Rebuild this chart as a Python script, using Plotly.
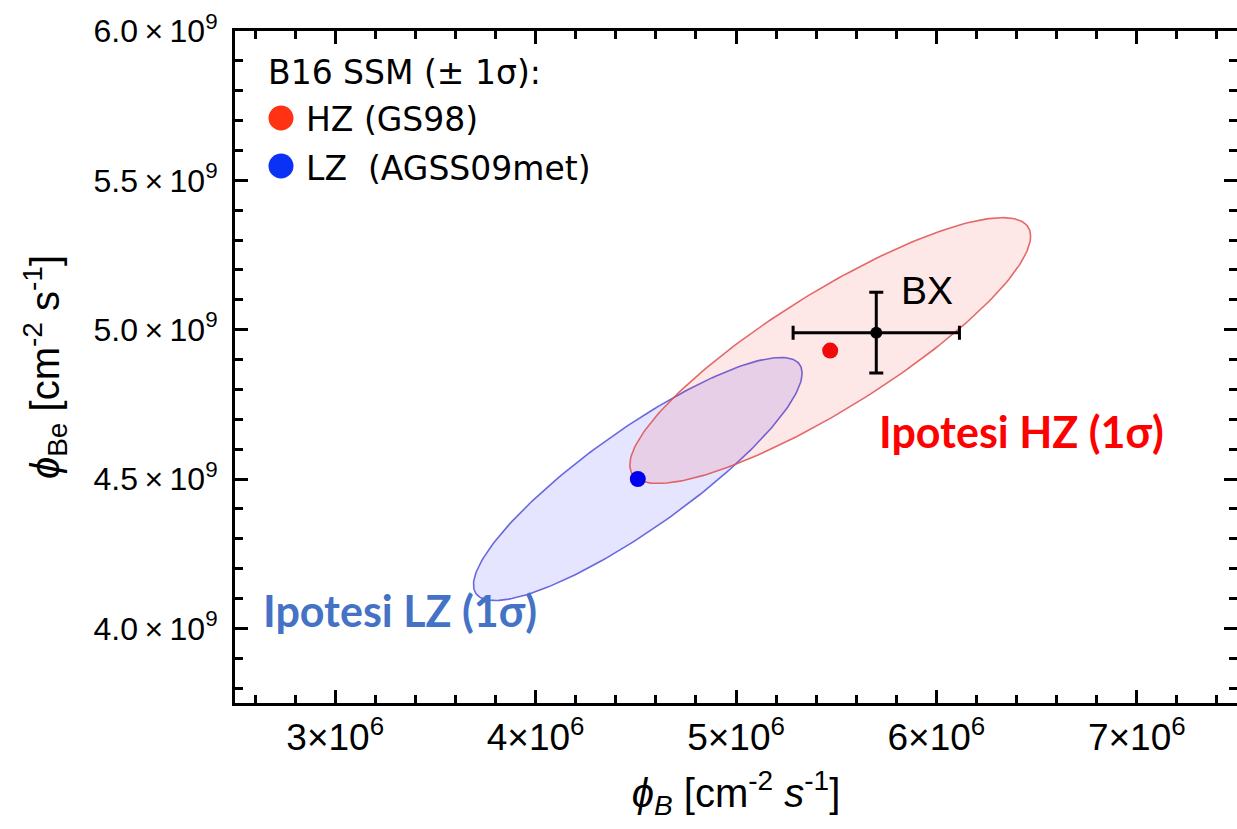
import numpy as np
import plotly.graph_objects as go

# ---------------- data ----------------
x_tick_vals = [3e6, 4e6, 5e6, 6e6, 7e6]
x_tick_text = ["3×10<sup>6</sup>", "4×10<sup>6</sup>", "5×10<sup>6</sup>", "6×10<sup>6</sup>", "7×10<sup>6</sup>"]
y_tick_vals = [4.0e9, 4.5e9, 5.0e9, 5.5e9, 6.0e9]
y_tick_text = ["4.0\u2009×\u200910<sup>9</sup>", "4.5\u2009×\u200910<sup>9</sup>", "5.0\u2009×\u200910<sup>9</sup>",
               "5.5\u2009×\u200910<sup>9</sup>", "6.0\u2009×\u200910<sup>9</sup>"]

# SSM model ellipses: centre, 1-sigma half widths, correlation
hz_center = [5.47e6, 4.93e9]
hz_sigma = [1.00e6, 0.445e9]
hz_rho = 0.86

lz_center = [4.51e6, 4.50e9]
lz_sigma = [0.82e6, 0.407e9]
lz_rho = 0.87

# Borexino measurement
bx_x = [5.70e6]
bx_y = [4.99e9]
bx_xerr = [0.415e6]
bx_yerr = [0.135e9]

X_RANGE = [2.5e6, 7.5e6]
Y_RANGE = [3.75e9, 6.0e9]


def ellipse(center, sigma, rho, n=240):
    t = np.linspace(0, 2 * np.pi, n)
    d = np.arccos(rho)
    return center[0] + sigma[0] * np.cos(t), center[1] + sigma[1] * np.cos(t - d)


fig = go.Figure()

lx, ly = ellipse(lz_center, lz_sigma, lz_rho)
fig.add_trace(go.Scatter(x=lx, y=ly, mode="lines", fill="toself",
                         fillcolor="rgba(40,40,255,0.12)",
                         line=dict(color="rgba(80,80,220,0.85)", width=1.6),
                         hoverinfo="skip"))
hx, hy = ellipse(hz_center, hz_sigma, hz_rho)
fig.add_trace(go.Scatter(x=hx, y=hy, mode="lines", fill="toself",
                         fillcolor="rgba(245,40,40,0.11)",
                         line=dict(color="rgba(225,80,80,0.85)", width=1.6),
                         hoverinfo="skip"))

fig.add_trace(go.Scatter(x=[hz_center[0]], y=[hz_center[1]], mode="markers",
                         marker=dict(color="#F00A0A", size=16)))
fig.add_trace(go.Scatter(x=[lz_center[0]], y=[lz_center[1]], mode="markers",
                         marker=dict(color="#0000F0", size=16)))

fig.add_trace(go.Scatter(x=bx_x, y=bx_y, mode="markers",
                         marker=dict(color="black", size=12),
                         error_x=dict(type="data", array=bx_xerr, color="black", thickness=3, width=7),
                         error_y=dict(type="data", array=bx_yerr, color="black", thickness=3, width=7)))

# paper coordinate helpers (plot area: x 235..1237, y 31..703)
def px(xp):
    return (xp - 235) / 1002.0


def py(yp):
    return (703 - yp) / 672.0


annotations = [
    dict(x=px(266), y=py(72), xref="paper", yref="paper", text="B16 SSM (± 1σ):",
         showarrow=False, xanchor="left", yanchor="middle",
         font=dict(family="DejaVu Sans", size=33, color="black")),
    dict(x=px(304), y=py(120), xref="paper", yref="paper", text="HZ (GS98)",
         showarrow=False, xanchor="left", yanchor="middle",
         font=dict(family="DejaVu Sans", size=33, color="black")),
    dict(x=px(304), y=py(168), xref="paper", yref="paper", text="LZ  (AGSS09met)",
         showarrow=False, xanchor="left", yanchor="middle",
         font=dict(family="DejaVu Sans", size=33, color="black")),
    dict(x=px(927), y=py(290), xref="paper", yref="paper", text="BX",
         showarrow=False, xanchor="center", yanchor="middle",
         font=dict(family="Liberation Sans", size=39, color="black")),
    dict(x=px(1021), y=py(431), xref="paper", yref="paper", text="<b>Ipotesi HZ (1σ)</b>",
         showarrow=False, xanchor="center", yanchor="middle",
         font=dict(family="Lato", size=43, color="#FF0000")),
    dict(x=px(400), y=py(610), xref="paper", yref="paper", text="<b>Ipotesi LZ (1σ)</b>",
         showarrow=False, xanchor="center", yanchor="middle",
         font=dict(family="Lato", size=43, color="#4472C4")),
]

shapes = [
    dict(type="circle", xref="paper", yref="paper", xsizemode="pixel", ysizemode="pixel",
         xanchor=px(281), yanchor=py(118), x0=-12.5, x1=12.5, y0=-12.5, y1=12.5,
         fillcolor="#FF3314", line=dict(width=0)),
    dict(type="circle", xref="paper", yref="paper", xsizemode="pixel", ysizemode="pixel",
         xanchor=px(281), yanchor=py(166), x0=-12.5, x1=12.5, y0=-12.5, y1=12.5,
         fillcolor="#0A32F5", line=dict(width=0)),
]

axis_common = dict(showline=True, linecolor="black", linewidth=3, mirror="allticks",
                   ticks="inside", ticklen=13, tickwidth=2.5, tickcolor="black",
                   showgrid=False, zeroline=False)

fig.update_layout(
    width=1237, height=829,
    margin=dict(l=235, r=0, t=31, b=126, autoexpand=False),
    plot_bgcolor="white", paper_bgcolor="white",
    showlegend=False,
    annotations=annotations,
    shapes=shapes,
    xaxis=dict(range=X_RANGE, tickvals=x_tick_vals, ticktext=x_tick_text,
               tickfont=dict(family="Liberation Sans", size=37, color="black"),
               minor=dict(dtick=2e5, tick0=3e6, ticks="inside", ticklen=8, tickwidth=2.5,
                          tickcolor="black", showgrid=False),
               title=dict(text="<i>ϕ</i><sub><i>B</i></sub> [cm<sup>-2</sup> <i>s</i><sup>-1</sup>]",
                          font=dict(family="Liberation Sans", size=40, color="black"), standoff=22),
               **axis_common),
    yaxis=dict(range=Y_RANGE, tickvals=y_tick_vals, ticktext=y_tick_text,
               tickfont=dict(family="Liberation Sans", size=32, color="black"),
               ticklabelstandoff=8,
               minor=dict(dtick=1e8, tick0=4e9, ticks="inside", ticklen=8, tickwidth=2.5,
                          tickcolor="black", showgrid=False),
               title=dict(text="<i>ϕ</i><sub>Be</sub> [cm<sup>-2</sup> s<sup>-1</sup>]",
                          font=dict(family="Liberation Sans", size=40, color="black"), standoff=22),
               **axis_common),
)

fig.write_html("out.html")
